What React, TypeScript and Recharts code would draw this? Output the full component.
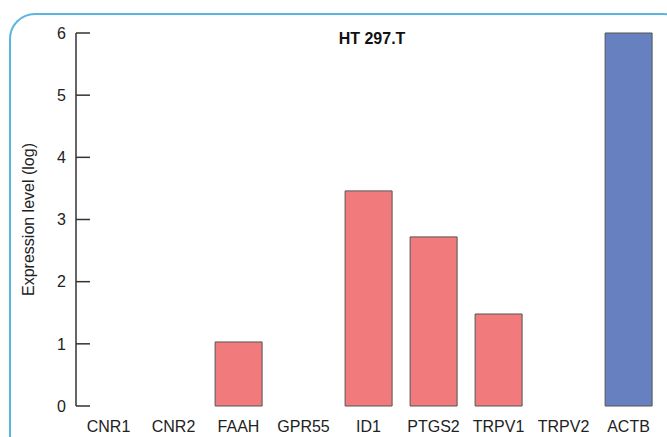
import { BarChart, Bar, XAxis, YAxis, Cell } from 'recharts';

const genes = ['CNR1', 'CNR2', 'FAAH', 'GPR55', 'ID1', 'PTGS2', 'TRPV1', 'TRPV2', 'ACTB'];
const expression = [0, 0, 1.03, 0, 3.46, 2.72, 1.48, 0, 6.0];
const yTicks = [0, 1, 2, 3, 4, 5, 6];
const boundaryTicks = [1, 2, 3, 4, 5, 6, 7, 8, 9];

const data = genes.map((gene, i) => ({ gene, value: expression[i], pos: i + 0.5 }));

const RED = '#f07a7c';
const BLUE = '#6680c0';
const AXIS = '#333333';
const FONT = 'Liberation Sans, Arial, sans-serif';
const tickFont = { fontFamily: FONT, fontSize: 16, fill: '#222' };

export default function App() {
  return (
    <div style={{ position: 'absolute', left: 0, top: 0, width: 667, height: 437, overflow: 'hidden', background: '#fff' }}>
      <div
        style={{
          position: 'absolute',
          left: 9,
          top: 13,
          width: 680,
          height: 460,
          border: '2px solid #5ab6e0',
          borderRadius: 26,
          boxSizing: 'border-box',
        }}
      />
      <div
        style={{
          position: 'absolute',
          left: 272,
          width: 200,
          top: 30,
          textAlign: 'center',
          fontFamily: FONT,
          fontWeight: 'bold',
          fontSize: 16,
          color: '#111',
        }}
      >
        HT 297.T
      </div>
      <BarChart
        width={667}
        height={437}
        data={data}
        margin={{ top: 33, right: 6, bottom: 0, left: 0 }}
        barCategoryGap="14%"
        style={{ position: 'absolute', left: 0, top: 0 }}
      >
        <XAxis
          xAxisId="bounds"
          type="number"
          dataKey="pos"
          domain={[0, 9]}
          ticks={boundaryTicks}
          tick={false}
          height={0}
          tickSize={-7}
          axisLine={{ stroke: AXIS, strokeWidth: 1.5 }}
          tickLine={{ stroke: AXIS, strokeWidth: 1.5 }}
          allowDataOverflow
        />
        <XAxis
          xAxisId="cat"
          dataKey="gene"
          height={31}
          axisLine={false}
          tickLine={false}
          tickSize={0}
          tickMargin={15}
          tick={tickFont}
          interval={0}
        />
        <YAxis
          domain={[0, 6]}
          ticks={yTicks}
          width={76}
          tickSize={-14}
          tickMargin={24}
          tick={tickFont}
          axisLine={{ stroke: AXIS, strokeWidth: 1.5 }}
          tickLine={{ stroke: AXIS, strokeWidth: 1.5 }}
          label={{
            value: 'Expression level (log)',
            angle: -90,
            position: 'insideLeft',
            dx: 23,
            style: { textAnchor: 'middle', fontFamily: FONT, fontSize: 16, fill: '#222' },
          }}
        />
        <Bar xAxisId="cat" dataKey="value" stroke="#555" strokeWidth={1} isAnimationActive={false}>
          {data.map((d) => (
            <Cell key={d.gene} fill={d.gene === 'ACTB' ? BLUE : RED} />
          ))}
        </Bar>
      </BarChart>
    </div>
  );
}
